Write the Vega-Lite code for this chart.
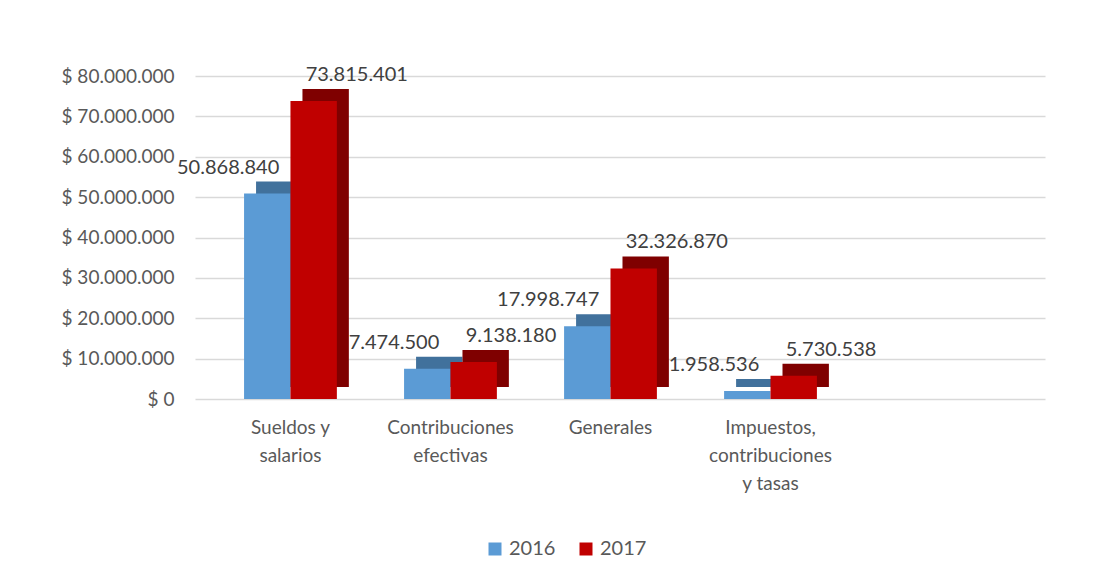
{
  "$schema": "https://vega.github.io/schema/vega-lite/v6.json",
  "width": 850,
  "height": 323,
  "autosize": {"type": "none"},
  "padding": {"left": 195, "top": 76, "right": 49, "bottom": 184},
  "background": "white",
  "config": {
    "locale": {"number": {"decimal": ",", "thousands": ".", "grouping": [3], "currency": ["$ ", ""]}},
    "font": "Lato",
    "view": {"stroke": null},
    "axis": {"labelFont": "Lato", "labelColor": "#595959", "labelFontSize": 19, "domain": false, "ticks": false, "title": null}
  },
  "data": {
    "values": [
      {"cat": "Sueldos y salarios", "year": "2016", "value": 50868840},
      {"cat": "Sueldos y salarios", "year": "2017", "value": 73815401},
      {"cat": "Contribuciones efectivas", "year": "2016", "value": 7474500},
      {"cat": "Contribuciones efectivas", "year": "2017", "value": 9138180},
      {"cat": "Generales", "year": "2016", "value": 17998747},
      {"cat": "Generales", "year": "2017", "value": 32326870},
      {"cat": "Impuestos, contribuciones y tasas", "year": "2016", "value": 1958536},
      {"cat": "Impuestos, contribuciones y tasas", "year": "2017", "value": 5730538}
    ]
  },
  "encoding": {
    "x": {
      "field": "cat", "type": "nominal", "sort": null,
      "scale": {"paddingInner": 0.42, "paddingOuter": 0.866, "align": 0.177},
      "axis": {
        "labelAngle": 0, "labelPadding": 28, "labelLineHeight": 28, "labelBaseline": "middle",
        "labelExpr": "datum.value == 'Sueldos y salarios' ? ['Sueldos y', 'salarios'] : datum.value == 'Contribuciones efectivas' ? ['Contribuciones', 'efectivas'] : datum.value == 'Impuestos, contribuciones y tasas' ? ['Impuestos,', 'contribuciones', 'y tasas'] : datum.value",
        "grid": false
      }
    },
    "y": {
      "field": "value", "type": "quantitative",
      "scale": {"domain": [0, 80000000], "nice": false},
      "axis": {"values": [0, 10000000, 20000000, 30000000, 40000000, 50000000, 60000000, 70000000, 80000000], "format": "$,.0f", "labelPadding": 21, "gridColor": "#D9D9D9", "gridWidth": 1.5}
    }
  },
  "layer": [
    {
      "mark": {"type": "bar", "yOffset": -12},
      "encoding": {
        "xOffset": {"field": "year", "type": "nominal", "scale": {"paddingInner": 0, "paddingOuter": 0, "range": [12, 104.8]}},
        "color": {"field": "year", "type": "nominal", "scale": {"domain": ["2016", "2017"], "range": ["#41719C", "#7F0000"]}, "legend": null}
      }
    },
    {
      "layer": [
        {
          "mark": {"type": "bar"},
          "encoding": {
            "color": {
              "field": "year", "type": "nominal",
              "scale": {"domain": ["2016", "2017"], "range": ["#5B9BD5", "#C00000"]},
              "legend": {
                "title": null, "orient": "none", "direction": "horizontal", "legendX": 290, "legendY": 463,
                "symbolType": "square", "symbolSize": 169, "symbolStrokeWidth": 0, "labelFontSize": 20, "labelColor": "#595959", "labelFont": "Lato", "columnPadding": 20, "labelOffset": 4
              }
            }
          }
        },
        {
          "transform": [{"filter": "datum.year == '2016'"}],
          "mark": {"type": "text", "align": "right", "baseline": "bottom", "dx": 12, "dy": -16, "fontSize": 20, "color": "#404040", "font": "Lato"},
          "encoding": {"text": {"field": "value", "type": "quantitative", "format": ",.0f"}}
        },
        {
          "transform": [{"filter": "datum.year == '2017'"}],
          "mark": {"type": "text", "align": "left", "baseline": "bottom", "dx": -8, "dy": -16, "fontSize": 20, "color": "#404040", "font": "Lato"},
          "encoding": {"text": {"field": "value", "type": "quantitative", "format": ",.0f"}}
        }
      ],
      "encoding": {
        "xOffset": {"field": "year", "type": "nominal", "scale": {"paddingInner": 0, "paddingOuter": 0}}
      }
    }
  ],
  "resolve": {"scale": {"color": "independent", "xOffset": "independent"}}
}
